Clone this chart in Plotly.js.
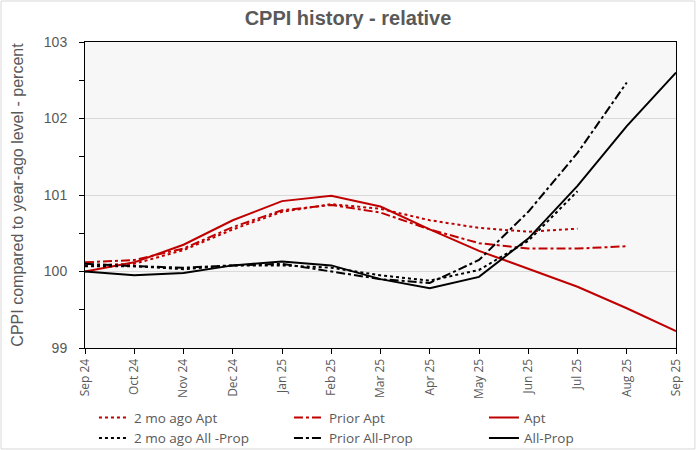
<!DOCTYPE html>
<html>
<head>
<meta charset="utf-8">
<script src="https://cdn.plot.ly/plotly-3.0.1.min.js"></script>
<style>html,body{margin:0;padding:0;background:#fff;}#chart{width:696px;height:450px;}</style>
</head>
<body>
<div id="chart"></div>
<script>
var months = ['Sep 24','Oct 24','Nov 24','Dec 24','Jan 25','Feb 25','Mar 25','Apr 25','May 25','Jun 25','Jul 25','Aug 25','Sep 25'];
var apt2mo   = [100.08, 100.10, 100.28, 100.55, 100.78, 100.88, 100.82, 100.67, 100.57, 100.52, 100.56];
var aptPrior = [100.12, 100.15, 100.30, 100.58, 100.80, 100.87, 100.77, 100.55, 100.37, 100.30, 100.30, 100.33];
var apt      = [100.00, 100.12, 100.35, 100.67, 100.92, 100.99, 100.85, 100.55, 100.27, 100.03, 99.80, 99.52, 99.22];
var all2mo   = [100.07, 100.07, 100.03, 100.08, 100.08, 100.05, 99.95, 99.88, 100.02, 100.40, 101.05];
var allPrior = [100.10, 100.07, 100.05, 100.08, 100.10, 100.00, 99.90, 99.85, 100.15, 100.78, 101.55, 102.47];
var all      = [100.00, 99.95, 99.98, 100.08, 100.13, 100.08, 99.90, 99.78, 99.93, 100.43, 101.12, 101.90, 102.60];
var seriesNames = ['2 mo ago Apt','Prior Apt','Apt','2 mo ago All -Prop','Prior All-Prop','All-Prop'];

var RED = '#c00000', BLK = '#000000';
function tr(y, name, color, dash) {
  return {x: months.slice(0, y.length), y: y, name: name, type: 'scatter', mode: 'lines',
          line: {color: color, width: 2, dash: dash}};
}
var data = [
  tr(apt2mo, seriesNames[0], RED, 'dot'),
  tr(aptPrior, seriesNames[1], RED, 'dashdot'),
  tr(apt, seriesNames[2], RED, 'solid'),
  tr(all2mo, seriesNames[3], BLK, 'dot'),
  tr(allPrior, seriesNames[4], BLK, 'dashdot'),
  tr(all, seriesNames[5], BLK, 'solid')
];
var layout = {
  width: 696, height: 450,
  margin: {l: 85, r: 20, t: 42, b: 102},
  paper_bgcolor: '#ffffff',
  plot_bgcolor: '#f7f7f7',
  title: {text: '<b>CPPI history - relative</b>', x: 0.5, xanchor: 'center', y: 0.96, yanchor: 'middle',
          font: {family: 'Liberation Sans, Arial, sans-serif', size: 20, color: '#595959'}},
  xaxis: {
    type: 'category', categoryorder: 'array', categoryarray: months,
    range: [0, 12], tickvals: months, ticktext: months,
    tickangle: -90, ticks: 'outside', ticklen: 5, tickcolor: '#000', tickwidth: 1,
    showline: true, linecolor: '#000', linewidth: 1, mirror: true,
    showgrid: false, zeroline: false, automargin: false,
    tickfont: {family: 'Open Sans, sans-serif', size: 12, color: '#595959'}
  },
  yaxis: {
    range: [99, 103], dtick: 1, tick0: 99,
    ticks: 'outside', ticklen: 5, tickcolor: '#000', ticklabelstandoff: 9,
    minor: {dtick: 0.5, ticks: 'outside', ticklen: 5, tickcolor: '#000', showgrid: false},
    showline: true, linecolor: '#000', linewidth: 1, mirror: true,
    showgrid: true, gridcolor: '#d9d9d9', gridwidth: 1, zeroline: false, automargin: false,
    tickfont: {family: 'Liberation Sans, Arial, sans-serif', size: 14, color: '#595959'},
    title: {text: 'CPPI compared to year-ago level - percent', standoff: 16,
            font: {family: 'Liberation Sans, Arial, sans-serif', size: 16, color: '#595959'}}
  },
  legend: {
    orientation: 'h', xref: 'container', yref: 'container',
    x: 0.135, xanchor: 'left', y: 0.106, yanchor: 'top',
    entrywidth: 150, entrywidthmode: 'pixels', traceorder: 'normal',
    font: {family: 'Open Sans, sans-serif', size: 13.5, color: '#595959'},
    bgcolor: 'rgba(0,0,0,0)', tracegroupgap: 0
  },
  shapes: [{type: 'rect', xref: 'paper', yref: 'paper', x0: -0.1421, x1: 1.032, y0: -0.330, y1: 1.134,
            line: {color: '#d9d9d9', width: 1}, fillcolor: 'rgba(0,0,0,0)', layer: 'below'}],
  showlegend: true
};
Plotly.newPlot('chart', data, layout, {displayModeBar: false, staticPlot: true});
</script>
</body>
</html>
